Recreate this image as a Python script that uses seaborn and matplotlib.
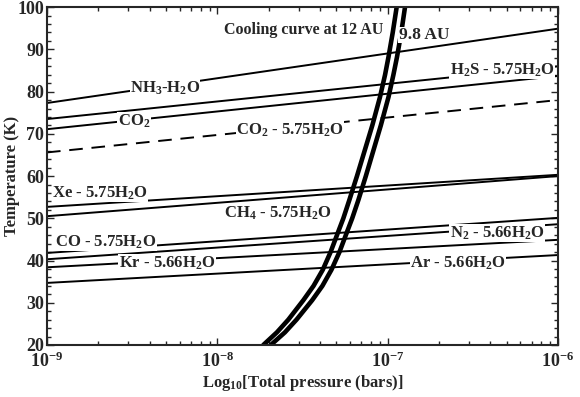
import matplotlib
matplotlib.use("Agg")
import matplotlib.pyplot as plt
import numpy as np
import pandas as pd
import seaborn as sns

# clathrate / condensate equilibrium lines: T (K) at 1e-9 and 1e-6 bar
species = ["NH3-H2O", "H2S - 5.75H2O", "CO2", "CO2 - 5.75H2O", "Xe - 5.75H2O",
           "CH4 - 5.75H2O", "CO - 5.75H2O", "N2 - 5.66H2O", "Kr - 5.66H2O", "Ar - 5.66H2O"]
t_low = [77.3, 73.5, 71.1, 65.6, 52.7, 50.5, 41.8, 40.3, 38.4, 34.7]
t_high = [94.9, 86.0, 83.7, 78.0, 60.3, 60.0, 50.1, 48.6, 44.9, 41.3]
p_ends = [1e-9, 1e-6]

# cooling curves (log10 P, T)
cool_T = [20, 23, 26, 30.6, 34, 37.8, 42, 46.5, 50, 54.3, 60, 66, 72, 78.7, 84, 88.2, 94, 100]
cool_12au = [-7.730, -7.650, -7.583, -7.495, -7.435, -7.381, -7.335, -7.293, -7.260,
             -7.225, -7.180, -7.135, -7.090, -7.045, -7.015, -6.995, -6.970, -6.947]
cool_98au = [-7.686, -7.603, -7.535, -7.443, -7.383, -7.330, -7.283, -7.241, -7.208,
             -7.172, -7.128, -7.084, -7.040, -6.995, -6.966, -6.945, -6.920, -6.898]

label_txt = [r"NH$_3$-H$_2$O", r"H$_2$S - 5.75H$_2$O", r"CO$_2$", r"CO$_2$ - 5.75H$_2$O",
             r"Xe - 5.75H$_2$O", r"CH$_4$ - 5.75H$_2$O", r"CO - 5.75H$_2$O",
             r"N$_2$ - 5.66H$_2$O", r"Kr - 5.66H$_2$O", r"Ar - 5.66H$_2$O"]
label_logp = [-8.307, -6.328, -8.489, -7.573, -8.689, -7.644, -8.654, -6.358, -8.295, -6.587]
label_T = [80.8, 85.1, 73.0, 70.9, 56.0, 51.2, 44.4, 46.5, 39.4, 39.4]

sns.set_theme(style="ticks")
plt.rcParams["font.family"] = ["Liberation Serif", "DejaVu Serif"]
plt.rcParams["font.weight"] = "bold"
plt.rcParams["axes.unicode_minus"] = False
plt.rcParams["mathtext.fontset"] = "custom"
plt.rcParams["mathtext.rm"] = "Liberation Serif:bold"
plt.rcParams["mathtext.it"] = "Liberation Serif:bold"
plt.rcParams["mathtext.bf"] = "Liberation Serif:bold"

rows = []
for name, a, b in zip(species, t_low, t_high):
    rows.append({"species": name, "p": p_ends[0], "T": a})
    rows.append({"species": name, "p": p_ends[1], "T": b})
df = pd.DataFrame(rows)

fig = plt.figure(figsize=(5.8, 3.97), dpi=100)
ax = fig.add_axes([0.081, 0.131, 0.881, 0.851])

for name in species:
    sub = df[df["species"] == name]
    dashed = name == "CO2 - 5.75H2O"
    sns.lineplot(data=sub, x="p", y="T", ax=ax, color="black", lw=1.4,
                 linestyle=(0, (7, 4.5)) if dashed else "-", legend=False)

cool = pd.DataFrame({
    "p": np.concatenate([10.0 ** np.array(cool_12au), 10.0 ** np.array(cool_98au)]),
    "T": cool_T + cool_T,
    "curve": ["12 AU"] * len(cool_T) + ["9.8 AU"] * len(cool_T),
})
for c in ["12 AU", "9.8 AU"]:
    sns.lineplot(data=cool[cool["curve"] == c], x="p", y="T", ax=ax, color="black",
                 lw=3.3, sort=False, estimator=None, legend=False)

box = dict(facecolor="white", edgecolor="none", pad=0.3)
for txt, lp, t in zip(label_txt, label_logp, label_T):
    ax.text(10 ** lp, t, txt, ha="center", va="center", fontsize=12,
            fontweight="bold", bbox=box, zorder=5)
ax.text(10 ** -7.491, 94.6, "Cooling curve at 12 AU", ha="center", va="center",
        fontsize=11.5, fontweight="bold", bbox=box, zorder=5)
ax.text(10 ** -6.786, 93.4, "9.8 AU", ha="center", va="center",
        fontsize=12.5, fontweight="bold", bbox=box, zorder=5)

ax.set_xscale("log")
ax.set_xlim(1e-9, 1e-6)
ax.set_ylim(20, 100)
ax.set_yticks(range(20, 101, 10))
ax.yaxis.set_minor_locator(matplotlib.ticker.MultipleLocator(2))
ax.tick_params(which="both", direction="in", top=True, right=True, labelsize=13)
ax.tick_params(which="major", length=5, width=1)
ax.tick_params(which="minor", length=3, width=1)
ax.tick_params(axis="x", pad=5)
ax.tick_params(axis="y", pad=2)
for s in ax.spines.values():
    s.set_linewidth(1.5)
ax.set_xlabel(r"Log$_{10}$[Total pressure (bars)]", fontsize=12, fontweight="bold", labelpad=1)
ax.set_ylabel("Temperature (K)", fontsize=12, fontweight="bold")
ax.yaxis.label.set_verticalalignment("center")
ax.yaxis.set_label_coords(-0.068, 0.5)
for lab in ax.get_yticklabels():
    lab.set_fontweight("bold")

fig.savefig("out.png", dpi=100)
